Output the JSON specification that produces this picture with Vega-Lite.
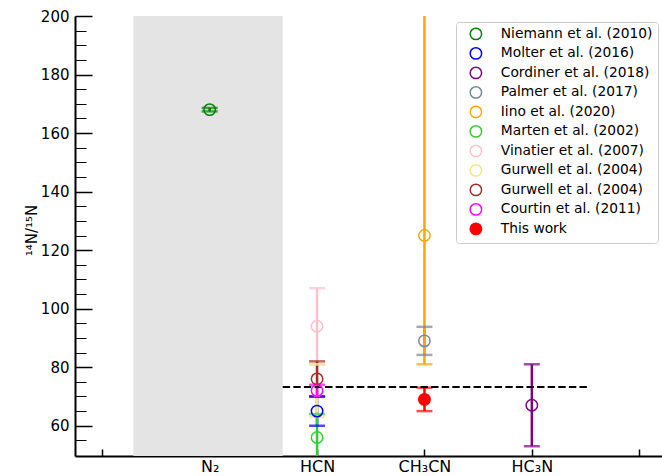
{
  "$schema": "https://vega.github.io/schema/vega-lite/v6.json",
  "autosize": {"type": "none"},
  "padding": {"left": 75, "top": 16, "right": 0, "bottom": 20},
  "width": 587,
  "height": 440,
  "config": {
    "view": {"stroke": null},
    "font": "DejaVu Sans",
    "axis": {"labelFont": "DejaVu Sans", "labelColor": "#000", "titleFont": "DejaVu Sans", "titleColor": "#000", "grid": false}
  },
  "resolve": {"axis": {"y": "independent"}},
  "datasets": {
    "points": [
      {"ref": "Niemann et al. (2010)", "mol": 1, "val": 168, "lo": 167.4, "hi": 168.6},
      {"ref": "Molter et al. (2016)", "mol": 2, "val": 65, "lo": 60, "hi": 70},
      {"ref": "Cordiner et al. (2018)", "mol": 4, "val": 67, "lo": 53, "hi": 81},
      {"ref": "Palmer et al. (2017)", "mol": 3, "val": 89, "lo": 84.2, "hi": 93.8},
      {"ref": "Iino et al. (2020)", "mol": 3, "val": 125, "lo": 81, "hi": 300},
      {"ref": "Marten et al. (2002)", "mol": 2, "val": 56, "lo": 48, "hi": 64},
      {"ref": "Vinatier et al. (2007)", "mol": 2, "val": 94, "lo": 81, "hi": 107},
      {"ref": "Gurwell et al. (2004)", "mol": 2, "val": 72, "lo": 63, "hi": 81},
      {"ref": "Gurwell et al. (2004) ", "mol": 2, "val": 76, "lo": 70, "hi": 82},
      {"ref": "Courtin et al. (2011)", "mol": 2, "val": 72, "lo": 70, "hi": 74},
      {"ref": "This work", "mol": 3, "val": 69, "lo": 65, "hi": 73}
    ],
    "band": [{"x1": 0.29, "x2": 1.68}],
    "refline": [{"x1": 1.68, "x2": 4.53, "y": 73.2}]
  },
  "layer": [
    {
      "data": {"name": "band"},
      "mark": {"type": "rect", "color": "#e4e4e4"},
      "encoding": {
        "x": {"field": "x1", "type": "quantitative"},
        "x2": {"field": "x2"}
      }
    },
    {
      "data": {"name": "points"},
      "mark": {"type": "rule", "strokeWidth": 2.5, "clip": true},
      "encoding": {
        "x": {
          "field": "mol", "type": "quantitative",
          "scale": {"domain": [-0.254, 5.212], "nice": false, "zero": false},
          "axis": {
            "title": null,
            "values": [0, 1, 2, 3, 4, 5],
            "labelExpr": "datum.value == 1 ? 'N₂' : datum.value == 2 ? 'HCN' : datum.value == 3 ? 'CH₃CN' : datum.value == 4 ? 'HC₃N' : ''",
            "labelFontSize": 16,
            "labelPadding": 9,
            "tickSize": -7,
            "tickWidth": 1.5,
            "tickColor": "#000",
            "domainColor": "#000",
            "domainWidth": 2,
            "labelOverlap": false
          }
        },
        "y": {
          "field": "lo", "type": "quantitative",
          "scale": {"domain": [49.66, 200], "nice": false, "zero": false},
          "axis": {
            "orient": "left",
            "title": "¹⁴N/¹⁵N",
            "titleFontSize": 15,
            "titleFontWeight": "normal",
            "titleX": -44,
            "titleY": 214,
            "titleBaseline": "middle",
            "values": [60, 80, 100, 120, 140, 160, 180, 200],
            "labelFontSize": 15,
            "labelPadding": 23,
            "labelOverlap": false,
            "tickSize": -17,
            "tickWidth": 1.5,
            "tickColor": "#000",
            "domainColor": "#000",
            "domainWidth": 2
          }
        },
        "y2": {"field": "hi"},
        "color": {
          "field": "ref", "type": "nominal", "legend": null,
          "scale": {
            "domain": ["This work", "Courtin et al. (2011)", "Gurwell et al. (2004) ", "Gurwell et al. (2004)", "Vinatier et al. (2007)", "Marten et al. (2002)", "Iino et al. (2020)", "Palmer et al. (2017)", "Cordiner et al. (2018)", "Molter et al. (2016)", "Niemann et al. (2010)"],
            "range": ["#ff0000", "#ff00ff", "#a52a2a", "#f0e68c", "#ffc0cb", "#32cd32", "#ffa500", "#778899", "#800080", "#0000ff", "#008000"]
          }
        }
      }
    },
    {
      "data": {"name": "points"},
      "mark": {"type": "tick", "orient": "horizontal", "size": 16, "thickness": 2.5, "clip": true},
      "encoding": {
        "x": {"field": "mol", "type": "quantitative"},
        "y": {"field": "lo", "type": "quantitative", "axis": {"orient": "left", "title": null, "labels": false, "domain": false, "values": [55, 65, 70, 75, 85, 90, 95, 105, 110, 115, 125, 130, 135, 145, 150, 155, 165, 170, 175, 185, 190, 195], "tickSize": -11, "tickWidth": 1, "tickColor": "#000"}},
        "color": {"field": "ref", "type": "nominal", "legend": null}
      }
    },
    {
      "data": {"name": "points"},
      "mark": {"type": "tick", "orient": "horizontal", "size": 16, "thickness": 2.5, "clip": true},
      "encoding": {
        "x": {"field": "mol", "type": "quantitative"},
        "y": {"field": "hi", "type": "quantitative", "axis": null},
        "color": {"field": "ref", "type": "nominal", "legend": null}
      }
    },
    {
      "data": {"name": "refline"},
      "mark": {"type": "rule", "color": "#000", "strokeWidth": 2, "strokeDash": [7.4, 3.2]},
      "encoding": {
        "x": {"field": "x1", "type": "quantitative"},
        "x2": {"field": "x2"},
        "y": {"field": "y", "type": "quantitative", "axis": null}
      }
    },
    {
      "data": {"name": "points"},
      "mark": {"type": "point", "shape": "circle", "size": 130, "strokeWidth": 1.5, "filled": false, "opacity": 1},
      "encoding": {
        "x": {"field": "mol", "type": "quantitative"},
        "y": {"field": "val", "type": "quantitative", "axis": null},
        "stroke": {
          "field": "ref", "type": "nominal",
          "scale": {
            "domain": ["Niemann et al. (2010)", "Molter et al. (2016)", "Cordiner et al. (2018)", "Palmer et al. (2017)", "Iino et al. (2020)", "Marten et al. (2002)", "Vinatier et al. (2007)", "Gurwell et al. (2004)", "Gurwell et al. (2004) ", "Courtin et al. (2011)", "This work"],
            "range": ["#008000", "#0000ff", "#800080", "#778899", "#ffa500", "#32cd32", "#ffc0cb", "#f0e68c", "#a52a2a", "#ff00ff", "#ff0000"]
          },
          "legend": {
            "orient": "none", "legendX": 381, "legendY": 6,
            "title": null,
            "padding": 5, "strokeColor": "#cccccc", "fillColor": "rgba(255,255,255,0.8)", "cornerRadius": 3,
            "labelFont": "DejaVu Sans", "labelFontSize": 13.8, "labelColor": "#000",
            "symbolType": "circle", "symbolSize": 130, "symbolStrokeWidth": 1.5,
            "rowPadding": 1.5, "symbolOffset": 8, "labelOffset": 18
          }
        },
        "fill": {
          "field": "ref", "type": "nominal",
          "scale": {
            "domain": ["Niemann et al. (2010)", "Molter et al. (2016)", "Cordiner et al. (2018)", "Palmer et al. (2017)", "Iino et al. (2020)", "Marten et al. (2002)", "Vinatier et al. (2007)", "Gurwell et al. (2004)", "Gurwell et al. (2004) ", "Courtin et al. (2011)", "This work"],
            "range": ["transparent", "transparent", "transparent", "transparent", "transparent", "transparent", "transparent", "transparent", "transparent", "transparent", "#ff0000"]
          },
          "legend": {
            "orient": "none", "legendX": 381, "legendY": 6,
            "title": null,
            "padding": 5, "strokeColor": "#cccccc", "fillColor": "rgba(255,255,255,0.8)", "cornerRadius": 3,
            "labelFont": "DejaVu Sans", "labelFontSize": 13.8, "labelColor": "#000",
            "symbolType": "circle", "symbolSize": 130, "symbolStrokeWidth": 1.5,
            "rowPadding": 1.5, "symbolOffset": 8, "labelOffset": 18
          }
        }
      }
    },
    {
      "mark": {"type": "rule", "color": "#000", "strokeWidth": 2},
      "encoding": {"y": {"datum": 200, "axis": null}}
    }
  ]
}
